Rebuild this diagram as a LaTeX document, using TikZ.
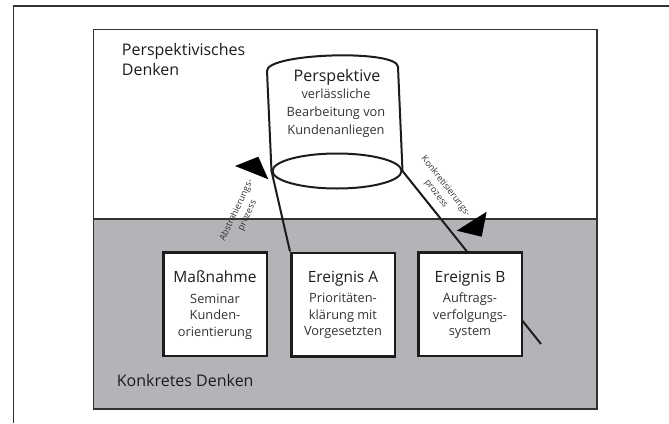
\documentclass[tikz,border=0pt]{standalone}
\usepackage{fontspec}
\setmainfont{Open Sans}
\usetikzlibrary{shapes.geometric}
\definecolor{panelgrey}{RGB}{179,180,184}
\definecolor{ink}{RGB}{28,28,28}
\definecolor{framecol}{RGB}{50,50,50}
\begin{document}
\begin{tikzpicture}[x=1pt,y=-1pt,
  frameline/.style={draw=framecol, line width=1.4pt},
  boxnode/.style={draw=ink, line width=2.5pt, fill=white, minimum width=103.5pt, minimum height=103.5pt, inner sep=0pt},
  cyl/.style={draw=ink, line width=2pt},
  conn/.style={draw=ink, line width=2pt},
  bigtext/.style={inner sep=0pt, text=ink, font=\fontsize{16}{19}\selectfont},
  titletext/.style={inner sep=0pt, text=ink, anchor=base, font=\fontsize{15.5}{18}\selectfont},
  subtext/.style={inner sep=0pt, text=ink!90, anchor=base, font=\fontsize{12.8}{16}\selectfont},
  smalltext/.style={inner sep=0pt, text=ink!90, align=center, font=\fontsize{9}{12}\selectfont},
  headfill/.style={fill=black}]
\useasboundingbox (0,0) rectangle (669,423);
% outer frame (partly visible)
\coordinate (ofBottom) at (13.5,423);
\coordinate (ofCorner) at (13.5,6);
\coordinate (ofRight) at (669,6);
\draw[frameline] (ofBottom) -- (ofCorner) -- (ofRight);
% panel
\fill[panelgrey] (93.5,219) rectangle (597,409);
\draw[frameline] (93.5,29.5) rectangle (597,409);
\coordinate (divL) at (93.5,219);
\coordinate (divR) at (597,219);
\draw[frameline] (divL) -- (divR);
% cylinder
\node[draw=ink, line width=2pt, ellipse, minimum width=129pt, minimum height=35pt, inner sep=0pt] (base) at (337,171) {};
\coordinate (cylTL) at (267,71);
\coordinate (cylTR) at (398,67);
\draw[cyl] (base.west) -- (cylTL) .. controls (266,53) and (398,49) .. (cylTR) -- (base.east);
% connectors (drawn before the boxes, which cover them)
\coordinate (tailB) at (541,344);
% boxes
\node[boxnode] (mass) at (215,304) {};
\node[boxnode] (evA) at (343,304.5) {};
\draw[conn] (base.west) -- (evA.north west);
\draw[conn] (base.east) -- (tailB);
\node[boxnode] (evB) at (470,304) {};
% arrowheads
\coordinate (ahL1) at (235,166);
\coordinate (ahL2) at (258.3,156.7);
\coordinate (ahL3) at (268.3,179.3);
\fill[headfill] (ahL1) -- (ahL2) -- (ahL3) -- cycle;
\coordinate (ahR1) at (456.7,230.7);
\coordinate (ahR2) at (486.7,211.7);
\coordinate (ahR3) at (481.7,236.7);
\fill[headfill] (ahR1) -- (ahR2) -- (ahR3) -- cycle;
% rotated labels
\node[smalltext, rotate=65] (abstr) at (242,213) {Abstrahierungs-\\prozess};
\node[smalltext, rotate=-52] (konkr) at (441,190) {Konkretisierungs-\\prozess};
% region labels
\node[bigtext, anchor=base west] (perspA) at (121.7,55) {Perspektivisches};
\node[bigtext, anchor=base west] (perspB) at (121.7,75) {Denken};
\node[bigtext, anchor=base west] (konkret) at (116.7,386.7) {Konkretes Denken};
% cylinder text
\node[titletext, font=\fontsize{16}{19}\selectfont] (cylT) at (337,81.7) {Perspektive};
\node[subtext] (cyl1) at (336,98.5) {verlässliche};
\node[subtext] (cyl2) at (336,116.5) {Bearbeitung von};
\node[subtext] (cyl3) at (336,134.5) {Kundenanliegen};
% box texts
\node[titletext] (mT) at (215,282) {Maßnahme};
\node[subtext] (m1) at (215,303) {Seminar};
\node[subtext] (m2) at (215,319.5) {Kunden-};
\node[subtext] (m3) at (215,336) {orientierung};
\node[titletext] (aT) at (343,282.3) {Ereignis A};
\node[subtext] (a1) at (343,302.5) {Prioritäten-};
\node[subtext] (a2) at (343,319) {klärung mit};
\node[subtext] (a3) at (343,335.7) {Vorgesetzten};
\node[titletext] (bT) at (470,282.3) {Ereignis B};
\node[subtext] (b1) at (470,302.5) {Auftrags-};
\node[subtext] (b2) at (470,319) {verfolgungs-};
\node[subtext] (b3) at (470,335.7) {system};
\end{tikzpicture}
\end{document}
